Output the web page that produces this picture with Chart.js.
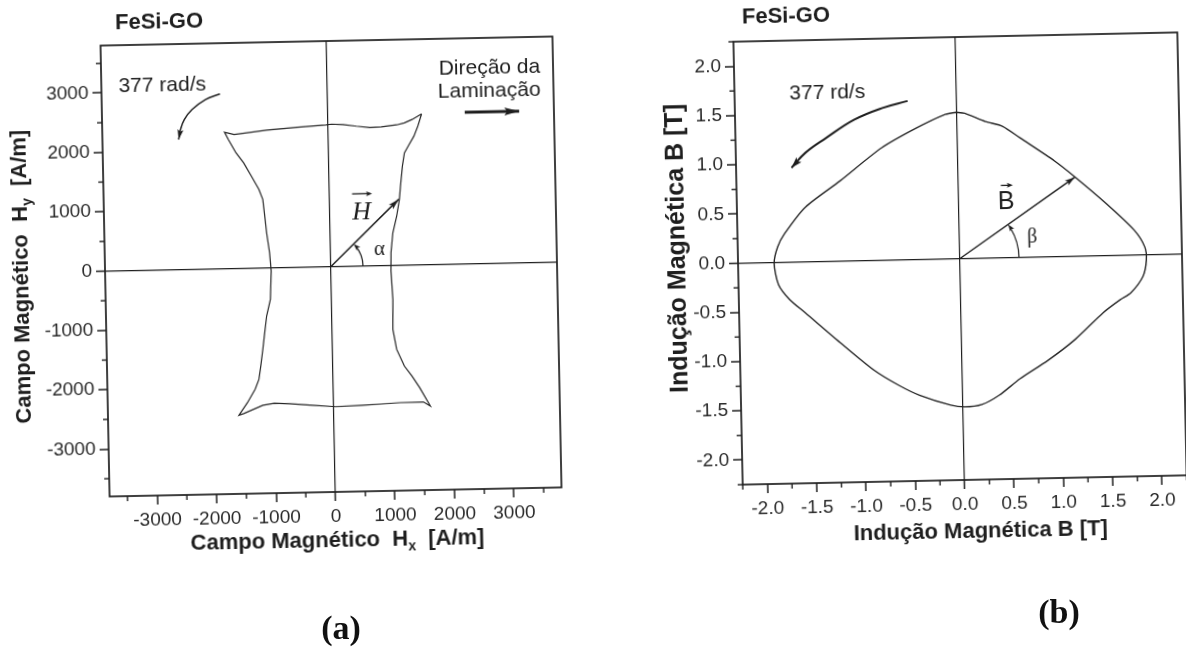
<!DOCTYPE html>
<html>
<head>
<meta charset="utf-8">
<script src="https://cdn.jsdelivr.net/npm/chart.js@4.4.1/dist/chart.umd.min.js"></script>
<style>
html,body{margin:0;padding:0;background:#fff;overflow:hidden;width:1186px;height:647px;}
#wrap{position:relative;width:1186px;height:647px;overflow:hidden;background:#fff;}
canvas{position:absolute;top:0;}
#ca{left:0;transform:rotate(-1.15deg);transform-origin:331px 266px;}
#cb{left:593px;transform:rotate(-1.2deg);transform-origin:368px 258px;}
.lab{position:absolute;font-family:"Liberation Serif","Times New Roman",serif;font-weight:bold;font-size:34px;color:#111;transform:translate(-50%,-50%);white-space:nowrap;}
</style>
</head>
<body>
<div id="wrap">
<canvas id="ca" width="593" height="647"></canvas>
<canvas id="cb" width="593" height="647"></canvas>
<div class="lab" style="left:341px;top:628px">(a)</div>
<div class="lab" style="left:1059px;top:612px">(b)</div>
</div>
<script>
// ---------- (a) magnetic field locus H [A/m] ----------
const H_X = [1574,1411,1282,1152,894,700,476,251,58,-38,-521,-1036,-1584,-1745,-1683,-1559,-1434,-1309,-1186,-1124,-1097,-1071,-1028,-1007,-1030,-1099,-1137,-1174,-1214,-1250,-1317,-1450,-1597,-1519,-1193,-1001,-742,-358,28,479,800,1122,1509,1623,1450,1324,1200,1076,1019,1029,1007,1013,1051,1121,1172,1195,1234,1272,1338,1437,1506,1574];
const H_Y = [2541,2449,2395,2364,2336,2328,2355,2388,2397,2388,2358,2318,2256,2299,2174,1947,1776,1549,1322,1152,871,590,252,-57,-534,-813,-1093,-1373,-1653,-1877,-2044,-2266,-2476,-2449,-2316,-2286,-2297,-2332,-2363,-2349,-2334,-2317,-2314,-2384,-2071,-1872,-1702,-1418,-1080,-575,-98,211,547,826,1106,1330,1666,1890,2001,2167,2334,2541];
const H_VEC_X = [0, 1160];
const H_VEC_Y = [0, 1110];
const ROT_A_X = [-1809,-2055,-2283,-2416,-2483,-2519];
const ROT_A_Y = [2946,2855,2691,2526,2359,2191];
const LAM_X = [2300, 3215];
const LAM_Y = [2552, 2552];
const LABELS_A = ['377 rad/s', 'Direção da', 'Laminação'];
const LABELS_A_X = [-2775, 2731, 2719];
const LABELS_A_Y = [3105, 3293, 2899];
const SYMBOLS_A = ['H', 'α'];
const SYMBOLS_A_X = [530, 821];
const SYMBOLS_A_Y = [895, 271];
const RANGE_A = [-3800, 3800];
const TICKS_A = [-3500,-3000,-2500,-2000,-1500,-1000,-500,0,500,1000,1500,2000,2500,3000,3500];
const MAJOR_A = 1000;

// ---------- (b) magnetic induction locus B [T] ----------
const B_X = [-0.010,0.078,0.287,0.461,0.634,0.979,1.180,1.497,1.772,1.874,1.888,1.850,1.723,1.617,1.439,1.152,0.867,0.582,0.368,0.191,0.015,-0.124,-0.439,-0.646,-0.889,-1.233,-1.579,-1.735,-1.845,-1.884,-1.845,-1.772,-1.556,-1.199,-0.772,-0.416,-0.133,-0.010];
const B_Y = [1.486,1.474,1.386,1.333,1.212,0.970,0.805,0.523,0.250,0.080,-0.055,-0.221,-0.386,-0.451,-0.581,-0.844,-1.055,-1.234,-1.397,-1.487,-1.507,-1.487,-1.380,-1.275,-1.120,-0.827,-0.518,-0.380,-0.225,-0.009,0.157,0.290,0.554,0.814,1.140,1.334,1.462,1.486];
const B_VEC_X = [0, 1.18];
const B_VEC_Y = [0, 0.80];
const ROT_B_X = [-0.498,-0.763,-1.046,-1.331,-1.545,-1.688];
const ROT_B_Y = [1.611,1.543,1.431,1.253,1.106,0.958];
const LABELS_B = ['377 rd/s'];
const LABELS_B_X = [-1.31];
const LABELS_B_Y = [1.705];
const SYMBOLS_B = ['B', 'β'];
const SYMBOLS_B_X = [0.48, 0.735];
const SYMBOLS_B_Y = [0.56, 0.20];
const RANGE_B = [-2.25, 2.25];
const TICKS_B = [-2.25,-2.0,-1.75,-1.5,-1.25,-1.0,-0.75,-0.5,-0.25,0,0.25,0.5,0.75,1.0,1.25,1.5,1.75,2.0,2.25];
const MAJOR_B = 0.5;

const PANEL_TITLE = 'FeSi-GO';

// ---------- styling helpers ----------
const INK = '#1e1e1e';
const LABEL_INK = '#2a2a2a';
const SANS = '"Liberation Sans", Arial, Helvetica, sans-serif';
const SERIF = '"Liberation Serif", "Times New Roman", serif';

function pts(xs, ys) { return xs.map((x, i) => ({ x: x, y: ys[i] })); }
function isMajor(v, major) { const r = v / major; return Math.abs(r - Math.round(r)) < 1e-6; }
function isZero(c) { return c.tick && Math.abs(c.tick.value) < 1e-9; }

function arrowHead(ctx, fx, fy, tx, ty, len, wid, color) {
  const a = Math.atan2(ty - fy, tx - fx);
  ctx.save();
  ctx.translate(tx, ty);
  ctx.rotate(a);
  ctx.beginPath();
  ctx.moveTo(0, 0);
  ctx.lineTo(-len, wid / 2);
  ctx.lineTo(-len * 0.78, 0);
  ctx.lineTo(-len, -wid / 2);
  ctx.closePath();
  ctx.fillStyle = color;
  ctx.fill();
  ctx.restore();
}

function drawRich(ctx, segs, cx, cy, rot) {
  ctx.save();
  ctx.translate(cx, cy);
  if (rot) ctx.rotate(rot);
  let total = 0;
  const w = segs.map(s => { ctx.font = s.font; const m = ctx.measureText(s.t).width; total += m; return m; });
  let x = -total / 2;
  ctx.textAlign = 'left';
  ctx.textBaseline = 'alphabetic';
  ctx.fillStyle = INK;
  segs.forEach((s, i) => { ctx.font = s.font; ctx.fillText(s.t, x, s.dy || 0); x += w[i]; });
  ctx.restore();
}

const decor = {
  id: 'decor',
  afterDraw(chart, args, o) {
    const ctx = chart.ctx, ca = chart.chartArea, sx = chart.scales.x, sy = chart.scales.y;
    ctx.save();
    // frame
    ctx.strokeStyle = INK;
    ctx.lineWidth = 1.7;
    ctx.strokeRect(ca.left, ca.top, ca.right - ca.left, ca.bottom - ca.top);
    // minor ticks
    ctx.lineWidth = 1.4;
    sx.ticks.forEach(t => {
      if (isMajor(t.value, o.major)) return;
      const p = sx.getPixelForValue(t.value);
      ctx.beginPath(); ctx.moveTo(p, ca.bottom); ctx.lineTo(p, ca.bottom + 5); ctx.stroke();
    });
    sy.ticks.forEach(t => {
      if (isMajor(t.value, o.major)) return;
      const p = sy.getPixelForValue(t.value);
      ctx.beginPath(); ctx.moveTo(ca.left, p); ctx.lineTo(ca.left - 5, p); ctx.stroke();
    });
    // arrowheads
    chart.data.datasets.forEach((ds, i) => {
      if (!ds.arrow) return;
      const d = chart.getDatasetMeta(i).data;
      const last = d[d.length - 1], prev = d[d.length - 2];
      let fx = prev.x, fy = prev.y;
      if (ds.tension && last.cp1x !== undefined && (Math.abs(last.cp1x - last.x) + Math.abs(last.cp1y - last.y)) > 1) {
        fx = last.cp1x; fy = last.cp1y;
      }
      arrowHead(ctx, fx, fy, last.x, last.y, ds.arrow[0], ds.arrow[1], ds.borderColor);
    });
    // angle arc
    const ox = sx.getPixelForValue(0), oy = sy.getPixelForValue(0);
    const vd = chart.getDatasetMeta(o.vecIndex).data;
    const tip = vd[vd.length - 1];
    const ang = Math.atan2(-(tip.y - oy), tip.x - ox);
    const r = o.arcR;
    ctx.strokeStyle = INK;
    ctx.lineWidth = 1.2;
    ctx.beginPath();
    ctx.arc(ox, oy, r, 0, -ang + 0.08, true);
    ctx.stroke();
    const ax = ox + r * Math.cos(ang), ay = oy - r * Math.sin(ang);
    arrowHead(ctx, ax + 7 * Math.sin(ang), ay + 7 * Math.cos(ang), ax, ay, 7, 5, INK);
    // text labels
    ctx.fillStyle = INK;
    ctx.textAlign = 'center';
    ctx.textBaseline = 'middle';
    ctx.font = o.labelFont;
    o.labels.forEach((t, i) => ctx.fillText(t, sx.getPixelForValue(o.labelsX[i]), sy.getPixelForValue(o.labelsY[i])));
    // vector symbol with arrow above
    const vx = sx.getPixelForValue(o.symX[0]), vy = sy.getPixelForValue(o.symY[0]);
    ctx.font = o.vecFont;
    ctx.fillText(o.sym[0], vx, vy);
    ctx.lineWidth = 1.3;
    ctx.beginPath();
    ctx.moveTo(vx - o.vecBar[0], vy - o.vecBar[1]);
    ctx.lineTo(vx + o.vecBar[0], vy - o.vecBar[1]);
    ctx.stroke();
    arrowHead(ctx, vx, vy - o.vecBar[1], vx + o.vecBar[0] + 2, vy - o.vecBar[1], 6, 5, INK);
    // angle symbol
    ctx.font = o.angFont;
    ctx.fillText(o.sym[1], sx.getPixelForValue(o.symX[1]), sy.getPixelForValue(o.symY[1]));
    // panel title
    ctx.textAlign = 'left';
    ctx.font = 'bold 22px ' + SANS;
    ctx.fillText(PANEL_TITLE, ca.left + o.titleOff[0], ca.top - o.titleOff[1]);
    // axis titles
    const cxm = (ca.left + ca.right) / 2, cym = (ca.top + ca.bottom) / 2;
    drawRich(ctx, o.xTitle, cxm + o.xTitleOff[0], ca.bottom + o.xTitleOff[1], 0);
    drawRich(ctx, o.yTitle, ca.left - o.yTitleOff[0], cym + o.yTitleOff[1], -Math.PI / 2);
    ctx.restore();
  }
};

function scaleCfg(range, tickValues, major, fmt, fit) {
  return {
    type: 'linear', min: range[0], max: range[1],
    afterFit: fit,
    afterBuildTicks: s => { s.ticks = tickValues.map(v => ({ value: v })); },
    border: { display: false },
    title: { display: false },
    ticks: {
      autoSkip: false, maxRotation: 0, minRotation: 0,
      padding: 4, color: LABEL_INK, font: { family: SANS, size: 19 },
      callback: v => isMajor(v, major) ? fmt(v) : ''
    },
    grid: {
      drawOnChartArea: true, drawTicks: true, tickLength: 9, tickWidth: 1.5,
      color: c => isZero(c) ? INK : 'rgba(0,0,0,0)',
      lineWidth: c => isZero(c) ? 1.2 : 0,
      tickColor: c => (c.tick && isMajor(c.tick.value, major)) ? INK : 'rgba(0,0,0,0)'
    }
  };
}

const TITLE_FONT = 'bold 22px ' + SANS;
const SUB_FONT = 'bold 14px ' + SANS;

// ---------- chart (a) ----------
const fmtA = v => String(Math.round(v));
new Chart(document.getElementById('ca'), {
  type: 'scatter',
  data: {
    datasets: [
      { data: pts(H_X, H_Y), showLine: true, borderColor: '#262626', borderWidth: 1.2, pointRadius: 0, tension: 0 },
      { data: pts(H_VEC_X, H_VEC_Y), showLine: true, borderColor: INK, borderWidth: 1.5, pointRadius: 0, arrow: [11, 6] },
      { data: pts(ROT_A_X, ROT_A_Y), showLine: true, borderColor: INK, borderWidth: 1.5, pointRadius: 0, tension: 0.4, arrow: [10, 6] },
      { data: pts(LAM_X, LAM_Y), showLine: true, borderColor: INK, borderWidth: 3, pointRadius: 0, arrow: [15, 8] }
    ]
  },
  options: {
    responsive: false, animation: false, events: [],
    layout: { padding: { left: 0, right: 36, top: 41, bottom: 95 } },
    scales: {
      x: scaleCfg(RANGE_A, TICKS_A, MAJOR_A, fmtA, s => { s.height = 60; }),
      y: scaleCfg(RANGE_A, TICKS_A, MAJOR_A, fmtA, s => { s.width = 105; })
    },
    plugins: {
      legend: { display: false }, tooltip: { enabled: false },
      decor: {
        major: MAJOR_A, vecIndex: 1, arcR: 32,
        labels: LABELS_A, labelsX: LABELS_A_X, labelsY: LABELS_A_Y, labelFont: '21px ' + SANS,
        sym: SYMBOLS_A, symX: SYMBOLS_A_X, symY: SYMBOLS_A_Y,
        vecFont: 'italic 26px ' + SERIF, vecBar: [9, 19], angFont: '21px ' + SERIF,
        titleOff: [15, 22],
        xTitle: [{ t: 'Campo Magnético  H', font: TITLE_FONT }, { t: 'x', font: SUB_FONT, dy: 5 }, { t: '  [A/m]', font: TITLE_FONT }],
        yTitle: [{ t: 'Campo Magnético  H', font: TITLE_FONT }, { t: 'y', font: SUB_FONT, dy: 5 }, { t: '  [A/m]', font: TITLE_FONT }],
        xTitleOff: [1, 55], yTitleOff: [77, 4]
      }
    }
  },
  plugins: [decor]
});

// ---------- chart (b) ----------
const fmtB = v => (Math.abs(v) < 1e-9 ? 0 : v).toFixed(1);
new Chart(document.getElementById('cb'), {
  type: 'scatter',
  data: {
    datasets: [
      { data: pts(B_X, B_Y), showLine: true, borderColor: '#262626', borderWidth: 1.4, pointRadius: 0, tension: 0.25 },
      { data: pts(B_VEC_X, B_VEC_Y), showLine: true, borderColor: INK, borderWidth: 1.5, pointRadius: 0, arrow: [10, 6] },
      { data: pts(ROT_B_X, ROT_B_Y), showLine: true, borderColor: INK, borderWidth: 2, pointRadius: 0, tension: 0.4, arrow: [11, 7] }
    ]
  },
  options: {
    responsive: false, animation: false, events: [],
    layout: { padding: { left: 0, right: 2, top: 37, bottom: 107 } },
    scales: {
      x: scaleCfg(RANGE_B, TICKS_B, MAJOR_B, fmtB, s => { s.height = 60; }),
      y: scaleCfg(RANGE_B, TICKS_B, MAJOR_B, fmtB, s => { s.width = 145; })
    },
    plugins: {
      legend: { display: false }, tooltip: { enabled: false },
      decor: {
        major: MAJOR_B, vecIndex: 1, arcR: 59,
        labels: LABELS_B, labelsX: LABELS_B_X, labelsY: LABELS_B_Y, labelFont: '21px ' + SANS,
        sym: SYMBOLS_B, symX: SYMBOLS_B_X, symY: SYMBOLS_B_Y,
        vecFont: '25px ' + SANS, vecBar: [5, 17], angFont: '20px ' + SERIF,
        titleOff: [9, 24],
        xTitle: [{ t: 'Indução Magnética B [T]', font: TITLE_FONT }],
        yTitle: [{ t: 'Indução Magnética B [T]', font: 'bold 25px ' + SANS }],
        xTitleOff: [15, 58], yTitleOff: [53, -16]
      }
    }
  },
  plugins: [decor]
});
</script>
</body>
</html>
